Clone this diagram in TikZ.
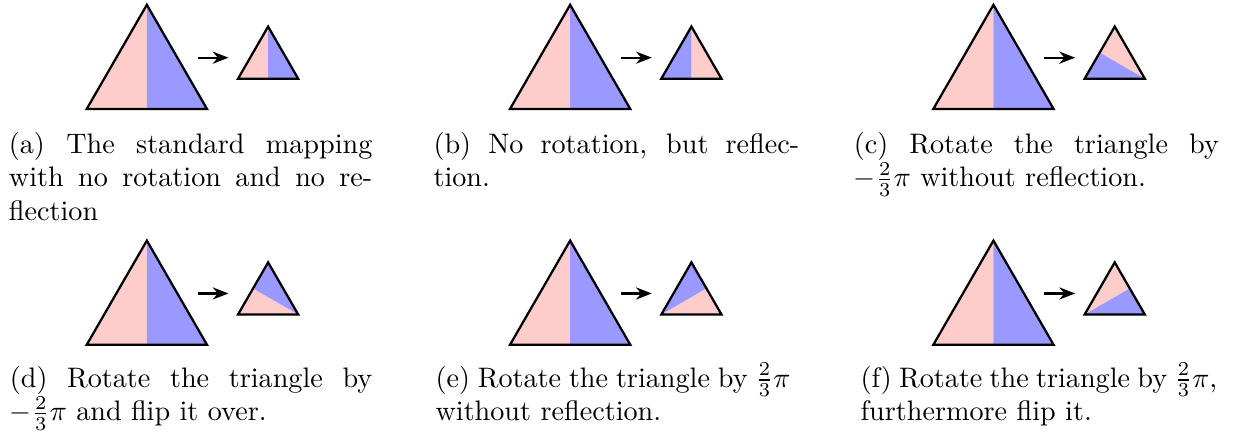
\documentclass[tikz,border=0pt]{standalone}
\usepackage{amsmath,amssymb}
\usepackage{xcolor}
\usepackage{tikz}
\usetikzlibrary{arrows.meta}

\begin{document}
\begin{tikzpicture}[>={Stealth[length=5.6pt,width=4.3pt]}, every node/.style={inner sep=0pt}, pk/.style={fill=red!20}, bl/.style={fill=blue!40}, tri/.style={draw,thick}, captxt/.style={anchor=base west,align=justify}]
\useasboundingbox (0,0) rectangle (15.436,-5.449);
\foreach \n/\c/\r/\ang/\fl in {a/0/0/0/1,b/1/0/0/-1,c/2/0/-120/1,d/0/1/-120/-1,e/1/1/120/1,f/2/1/120/-1}{
  \begin{scope}[shift={(1.081+5.278*\c,-1.359-2.94*\r)}]
    % source triangle
    \begin{scope}[shift={(0.75,0.433)},scale=2]
      \fill[pk] (210:0.433) -- (270:0.2165) -- (90:0.433) -- cycle;
      \fill[bl] (270:0.2165) -- (330:0.433) -- (90:0.433) -- cycle;
      \draw[tri] (210:0.433) -- (330:0.433) -- (90:0.433) -- cycle;
    \end{scope}
    % mapped triangle
    \begin{scope}[shift={(2.262,0.5945)},rotate=\ang,xscale=\fl]
      \fill[pk] (210:0.433) -- (270:0.2165) -- (90:0.433) -- cycle;
      \fill[bl] (270:0.2165) -- (330:0.433) -- (90:0.433) -- cycle;
      \draw[tri] (210:0.433) -- (330:0.433) -- (90:0.433) -- cycle;
    \end{scope}
    \coordinate (s\n) at (1.383,0.64);
    \coordinate (t\n) at (1.768,0.64);
    \draw[->,thick] (s\n) -- (t\n);
  \end{scope}
}
\node[captxt,text width=4.532cm] (ca) at (0.104,-1.908) {(a) The standard mapping\linebreak with no rotation and no re-\linebreak flection};
\node[captxt,text width=4.560cm] (cb) at (5.399,-1.908) {(b) No rotation, but reflec-\linebreak tion.};
\node[captxt,text width=4.551cm] (cc) at (10.640,-1.908) {(c) Rotate the triangle by\linebreak $-\frac{2}{3}\pi$ without reflection.};
\node[captxt,text width=4.519cm] (cd) at (0.116,-4.826) {(d) Rotate the triangle by\linebreak $-\frac{2}{3}\pi$ and flip it over.};
\node[captxt,text width=4.426cm] (ce) at (5.424,-4.826) {(e) Rotate the triangle by $\frac{2}{3}\pi$\linebreak without reflection.};
\node[captxt,text width=4.448cm] (cf) at (10.723,-4.826) {(f) Rotate the triangle by $\frac{2}{3}\pi$,\linebreak furthermore flip it.};
\end{tikzpicture}
\end{document}
